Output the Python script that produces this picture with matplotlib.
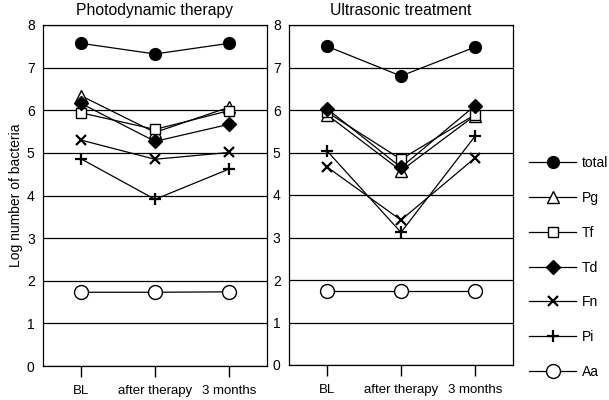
import matplotlib.pyplot as plt

plt.rcParams['font.family'] = ['Liberation Sans', 'DejaVu Sans']

times = ["BL", "after therapy", "3 months"]
species = ["total", "Pg", "Tf", "Td", "Fn", "Pi", "Aa"]

# log number of bacteria, photodynamic therapy
pdt = {
    "total": [7.57, 7.32, 7.57],
    "Pg": [6.34, 5.48, 6.07],
    "Tf": [5.94, 5.55, 5.99],
    "Td": [6.16, 5.27, 5.67],
    "Fn": [5.30, 4.85, 5.01],
    "Pi": [4.86, 3.91, 4.62],
    "Aa": [1.73, 1.73, 1.74],
}
# log number of bacteria, ultrasonic treatment
us = {
    "total": [7.50, 6.80, 7.48],
    "Pg": [5.89, 4.57, 5.87],
    "Tf": [5.95, 4.84, 5.89],
    "Td": [6.03, 4.65, 6.10],
    "Fn": [4.66, 3.41, 4.87],
    "Pi": [5.04, 3.12, 5.38],
    "Aa": [1.75, 1.75, 1.75],
}

styles = {
    "total": dict(marker="o", markersize=8.5, markerfacecolor="black"),
    "Pg": dict(marker="^", markersize=8.5, markerfacecolor="white"),
    "Tf": dict(marker="s", markersize=7, markerfacecolor="white"),
    "Td": dict(marker="D", markersize=7, markerfacecolor="black"),
    "Fn": dict(marker="x", markersize=7, markeredgewidth=1.6),
    "Pi": dict(marker="+", markersize=8, markeredgewidth=1.6),
    "Aa": dict(marker="o", markersize=10, markerfacecolor="white"),
}

fig = plt.figure(figsize=(6.09, 4.0), dpi=100)
ax1 = fig.add_axes([0.0706, 0.085, 0.3678, 0.8525])
ax2 = fig.add_axes([0.4745, 0.0875, 0.3678, 0.85])

handles = []
for ax, data, title in [(ax1, pdt, "Photodynamic therapy"), (ax2, us, "Ultrasonic treatment")]:
    x = range(len(times))
    for sp in species:
        ln, = ax.plot(x, data[sp], color="black", linewidth=0.9,
                      markeredgecolor="black", label=sp, **styles[sp])
        if ax is ax1:
            handles.append(ln)
    ax.set_ylim(0, 8)
    ax.set_xlim(-0.514, 2.514)
    ax.set_yticks(range(0, 9))
    ax.set_xticks(list(x))
    ax.set_xticklabels(times, fontsize=9.5)
    ax.tick_params(axis="y", length=0, labelsize=10, pad=6)
    ax.tick_params(axis="x", length=8, width=1, pad=6)
    ax.yaxis.grid(True, color="black", linewidth=0.9)
    ax.set_axisbelow(True)
    for s in ax.spines.values():
        s.set_linewidth(0.9)
    ax.set_title(title, fontsize=11.3, pad=7)

ax1.set_ylabel("Log number of bacteria", fontsize=10, labelpad=3)

fig.legend(handles, species, loc="upper left", bbox_to_anchor=(529 / 609, 1 - 156 / 400),
           frameon=False, fontsize=10, handlelength=3.4, handletextpad=0.4,
           labelspacing=1.5, borderpad=0, borderaxespad=0)

fig.savefig("out.png", dpi=100)
